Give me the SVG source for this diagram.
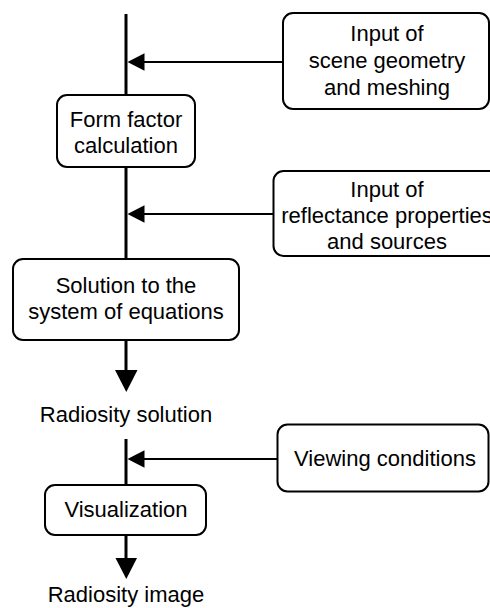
<svg xmlns="http://www.w3.org/2000/svg" width="490" height="608" viewBox="0 0 490 608">
  <style>
    .box { fill: #ffffff; stroke: #000000; stroke-width: 2; }
    .lbl { font-family: "Liberation Sans", Arial, sans-serif; font-size: 22px; fill: #000000; text-anchor: middle; }
    .main { stroke: #000000; stroke-width: 3; fill: none; }
    .feed { stroke: #000000; stroke-width: 2; fill: none; }
    .head { fill: #000000; stroke: none; }
  </style>

  <rect width="490" height="608" fill="#ffffff"/>

  <!-- connectors: main pipeline spine and side inputs -->
  <g id="connectors">
    <line class="main" x1="126" y1="14" x2="126" y2="95"/>
    <line class="main" x1="126" y1="167" x2="126" y2="259"/>
    <line class="main" x1="126" y1="340" x2="126" y2="372"/>
    <polygon class="head" points="115,370 137.5,370 126.3,392"/>
    <line class="main" x1="126" y1="439" x2="126" y2="485"/>
    <line class="main" x1="126" y1="535" x2="126" y2="560"/>
    <polygon class="head" points="115.5,558 137,558 126.3,579"/>

    <line class="feed" x1="143" y1="62" x2="283" y2="62"/>
    <polygon class="head" points="127.5,62 144.5,53.3 144.5,70.7"/>
    <line class="feed" x1="143" y1="214" x2="273" y2="214"/>
    <polygon class="head" points="127.5,214 144.5,205.3 144.5,222.7"/>
    <line class="feed" x1="143" y1="459" x2="277" y2="459"/>
    <polygon class="head" points="127.5,459 144.5,450.3 144.5,467.7"/>
  </g>

  <g id="input-geometry">
    <rect class="box" x="283" y="13" width="206" height="96" rx="10"/>
    <text class="lbl" x="387" y="41">Input of</text>
    <text class="lbl" x="387" y="68">scene geometry</text>
    <text class="lbl" x="387" y="95">and meshing</text>
  </g>

  <g id="form-factor">
    <rect class="box" x="57" y="95" width="138" height="72" rx="10"/>
    <text class="lbl" x="126" y="127">Form factor</text>
    <text class="lbl" x="126" y="153">calculation</text>
  </g>

  <g id="input-reflectance">
    <rect class="box" x="273.5" y="171" width="240" height="85" rx="10"/>
    <text class="lbl" x="387" y="197">Input of</text>
    <text class="lbl" x="387" y="223">reflectance properties</text>
    <text class="lbl" x="387" y="249">and sources</text>
  </g>

  <g id="solution">
    <rect class="box" x="13" y="259" width="226" height="81" rx="10"/>
    <text class="lbl" x="126" y="293">Solution to the</text>
    <text class="lbl" x="126" y="319">system of equations</text>
  </g>

  <g id="radiosity-solution">
    <text class="lbl" x="126" y="422">Radiosity solution</text>
  </g>

  <g id="viewing-conditions">
    <rect class="box" x="277.5" y="424.5" width="211" height="67" rx="10"/>
    <text class="lbl" x="385" y="466">Viewing conditions</text>
  </g>

  <g id="visualization">
    <rect class="box" x="45" y="485" width="161" height="50" rx="10"/>
    <text class="lbl" x="126" y="517">Visualization</text>
  </g>

  <g id="radiosity-image">
    <text class="lbl" x="126" y="602">Radiosity image</text>
  </g>
</svg>
